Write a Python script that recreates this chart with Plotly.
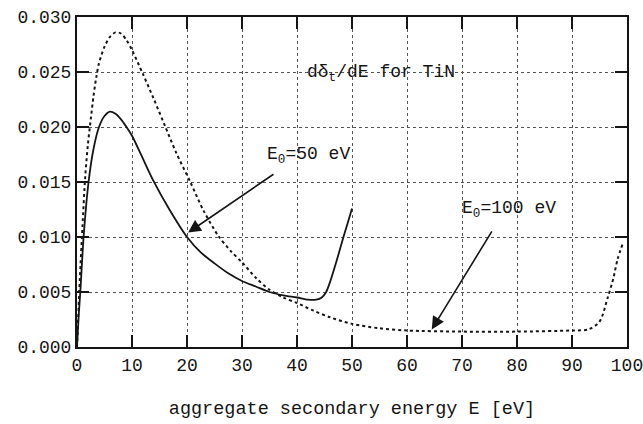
import plotly.graph_objects as go

# Secondary electron energy spectrum dδ_t/dE for TiN, two primary energies
e_50 = [0, 0.3, 0.6, 1.2, 2.1, 3.0, 4.0, 5.0, 6.0, 7.0, 8.0, 9.0, 10.0, 12.0, 13.9,
        16.8, 20.0, 22.5, 25.0, 27.5, 30.0, 32.5, 35.0, 37.5, 40.0, 42.0, 43.5,
        44.5, 45.3, 46.0, 47.3, 48.5, 49.3, 50.0]
d_50 = [0.0, 0.0028, 0.0050, 0.0100, 0.0150, 0.0180, 0.0200, 0.0210, 0.0214, 0.0212,
        0.0207, 0.0200, 0.0192, 0.0171, 0.0151, 0.0125, 0.0100, 0.0086, 0.0076,
        0.0067, 0.0060, 0.0055, 0.0050, 0.0047, 0.0045, 0.0043, 0.0043, 0.0045,
        0.0050, 0.0059, 0.0080, 0.0101, 0.0114, 0.0126]

e_100 = [0, 0.5, 1.0, 1.5, 2.0, 2.5, 3.0, 3.5, 4.0, 5.0, 6.0, 7.0, 8.0, 9.0, 10.0,
         12.0, 14.0, 16.0, 18.0, 20.6, 23.0, 25.7, 28.0, 30.0, 32.5, 35.0, 37.5,
         40.0, 43.0, 46.0, 50.0, 55.0, 60.0, 70.0, 80.0, 90.0, 93.0, 95.0, 96.5,
         97.5, 98.3, 99.3]
d_100 = [0.0, 0.0060, 0.0110, 0.0155, 0.0185, 0.0207, 0.0228, 0.0245, 0.0258, 0.0273,
         0.0282, 0.0286, 0.0285, 0.0279, 0.0270, 0.0248, 0.0225, 0.0201, 0.0177,
         0.0150, 0.0124, 0.0101, 0.0087, 0.0077, 0.0063, 0.0052, 0.0045, 0.0040,
         0.0033, 0.0027, 0.0021, 0.0017, 0.0015, 0.0014, 0.0014, 0.0015, 0.0016,
         0.0023, 0.0045, 0.0062, 0.0080, 0.0095]

x_ticks = [0, 10, 20, 30, 40, 50, 60, 70, 80, 90, 100]
y_ticks = [0.000, 0.005, 0.010, 0.015, 0.020, 0.025, 0.030]

FONT = "Liberation Mono, Courier New, monospace"
INK = "#151515"

fig = go.Figure()
fig.add_trace(go.Scatter(x=e_100, y=d_100, mode="lines",
                         line=dict(color=INK, width=2, dash="3px,3px", shape="spline", smoothing=0.8)))
fig.add_trace(go.Scatter(x=e_50, y=d_50, mode="lines",
                         line=dict(color=INK, width=1.8, shape="spline", smoothing=0.8)))

axis_common = dict(showline=True, linecolor=INK, linewidth=2, mirror="allticks",
                   ticks="inside", ticklen=12, tickwidth=2, tickcolor=INK,
                   showgrid=True, gridcolor="#555555", gridwidth=1, griddash="dot",
                   zeroline=False, automargin=False, ticklabeloverflow="allow",
                   tickfont=dict(family=FONT, size=18, color=INK))

fig.update_xaxes(range=[0, 100], tickvals=x_ticks, **axis_common,
                 title=dict(text="aggregate secondary energy E [eV]",
                            font=dict(family=FONT, size=18.5, color=INK), standoff=26))
fig.update_yaxes(range=[0, 0.030], tickvals=y_ticks, tickformat=".3f", **axis_common)

fig.add_annotation(x=55.3, y=0.0249, text="dδ<sub>t</sub>/dE for TiN", showarrow=False,
                   font=dict(family=FONT, size=18, color=INK))
fig.add_annotation(x=42, y=0.0174, text="E<sub>0</sub>=50 eV", showarrow=False,
                   font=dict(family=FONT, size=18, color=INK))
fig.add_annotation(x=78.5, y=0.0125, text="E<sub>0</sub>=100 eV", showarrow=False,
                   font=dict(family=FONT, size=18, color=INK))

# arrows pointing from the labels to the curves
fig.add_annotation(x=20.2, y=0.0104, ax=36.0, ay=0.0158, xref="x", yref="y",
                   axref="x", ayref="y", text="", showarrow=True, arrowhead=2,
                   arrowsize=1.6, arrowwidth=1.6, arrowcolor=INK)
fig.add_annotation(x=64.5, y=0.0016, ax=75.6, ay=0.01065, xref="x", yref="y",
                   axref="x", ayref="y", text="", showarrow=True, arrowhead=2,
                   arrowsize=1.6, arrowwidth=1.6, arrowcolor=INK)

fig.update_layout(width=643, height=424, showlegend=False,
                  margin=dict(l=77, r=16, t=17, b=77),
                  paper_bgcolor="white", plot_bgcolor="white")

fig.write_html("out.html")
